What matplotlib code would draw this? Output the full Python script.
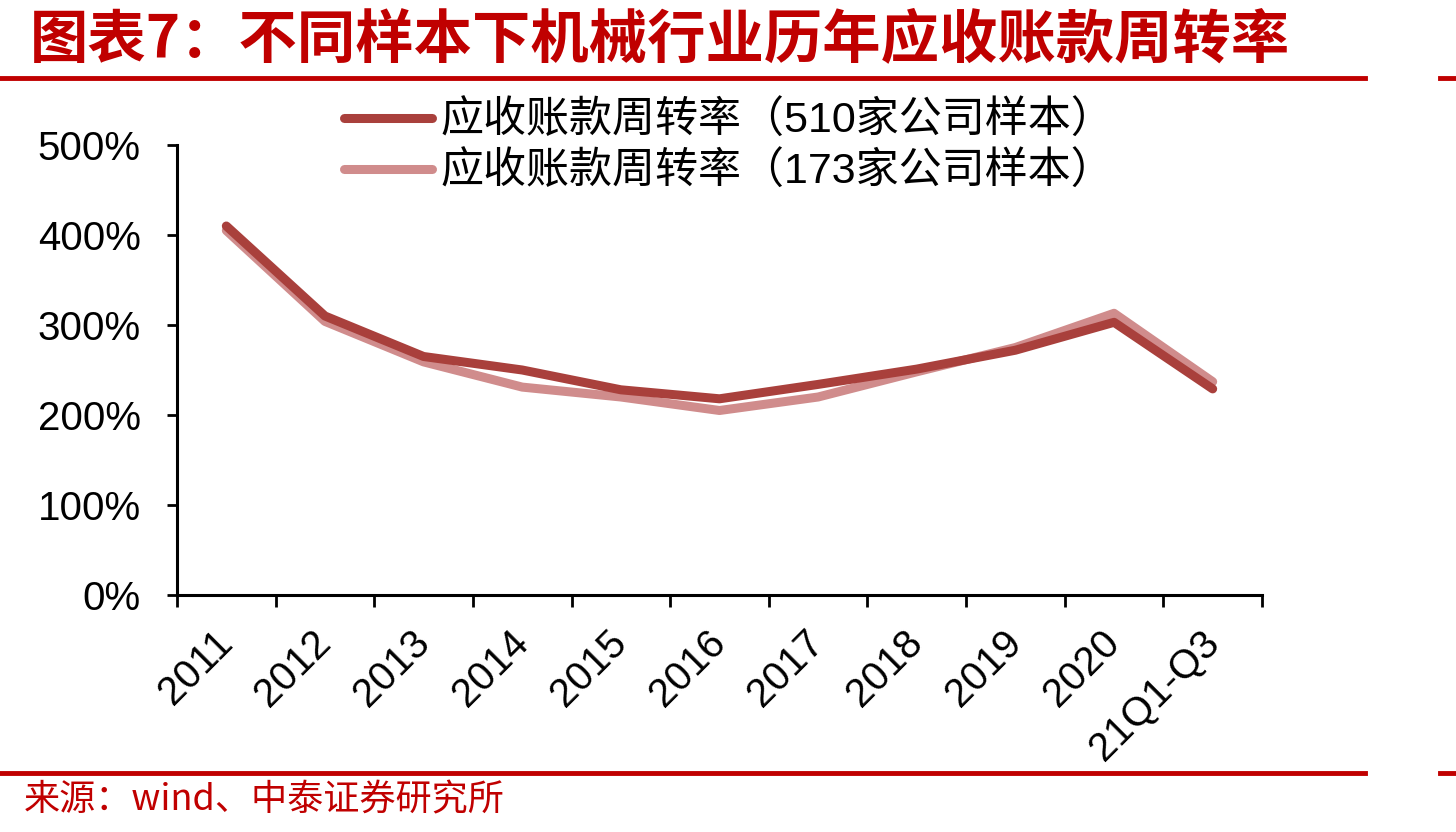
import numpy as np
import matplotlib
matplotlib.use('Agg')
import matplotlib.pyplot as plt
from matplotlib.lines import Line2D
from matplotlib.ticker import FuncFormatter, FixedLocator

plt.rcParams['font.family'] = ['Liberation Sans', 'Noto Sans CJK SC', 'DejaVu Sans']

# data (percent)
years = ['2011', '2012', '2013', '2014', '2015', '2016', '2017', '2018', '2019', '2020', '21Q1-Q3']
s510 = [410, 310, 265, 250, 228, 218, 234, 251, 272, 303, 229]
s173 = [405, 304, 259, 231, 220, 205, 220, 248, 275, 313, 237]
names = ['应收账款周转率（510家公司样本）', '应收账款周转率（173家公司样本）']

red = '#C00000'
c_dark = '#A9403C'
c_light = '#D08C8C'

fig = plt.figure(figsize=(14.56, 8.32), dpi=100)
ax = fig.add_axes([177/1456, 1-595/832, (1262-177)/1456, (595-145)/832])

x = np.arange(len(years))
ax.plot(x, s510, color=c_dark, lw=6.5, solid_capstyle='round', label=names[0], zorder=3)
ax.plot(x, s173, color=c_light, lw=6.5, solid_capstyle='round', label=names[1], zorder=2)

ax.set_xlim(-0.5, len(years) - 0.5)
ax.set_ylim(0, 500)
ax.set_yticks(np.arange(0, 501, 100))
ax.yaxis.set_major_formatter(FuncFormatter(lambda v, p: '%d%%' % v))

ax.set_xticks(x)
ax.set_xticklabels(years, rotation=45, ha='right', va='center', rotation_mode='anchor')
ax.xaxis.set_minor_locator(FixedLocator(np.arange(-0.5, len(years), 1.0)))
ax.tick_params(axis='x', which='major', length=0, labelsize=29, pad=30)
ax.tick_params(axis='x', which='minor', length=8.6, width=2, direction='out')
ax.tick_params(axis='y', length=7.2, width=2, direction='out', labelsize=29, pad=19)

for s in ['top', 'right']:
    ax.spines[s].set_visible(False)
for s in ['left', 'bottom']:
    ax.spines[s].set_linewidth(2.2)

leg = ax.legend(loc='center', bbox_to_anchor=(729/1456, 1-147/832), bbox_transform=fig.transFigure,
                frameon=False, fontsize=31, handlelength=2.05, handletextpad=0.2,
                labelspacing=0.23, borderpad=0)

# title and decorations
fig.text(30/1456, 1-40/832, '图表7：不同样本下机械行业历年应收账款周转率', color=red,
         fontsize=42, fontweight='bold', va='center', ha='left',
         family=['Noto Sans CJK SC', 'DejaVu Sans'])
for yy in [78, 773]:
    fig.add_artist(Line2D([0, 1365/1456], [1-yy/832]*2, color=red, lw=3.5))
    fig.add_artist(Line2D([1440/1456, 1], [1-yy/832]*2, color=red, lw=3.5))
fig.text(24/1456, 1-800/832, '来源：wind、中泰证券研究所', color=red, fontsize=26,
         va='center', ha='left', family=['Noto Sans CJK SC', 'DejaVu Sans'])

fig.savefig('out.png', dpi=100)
